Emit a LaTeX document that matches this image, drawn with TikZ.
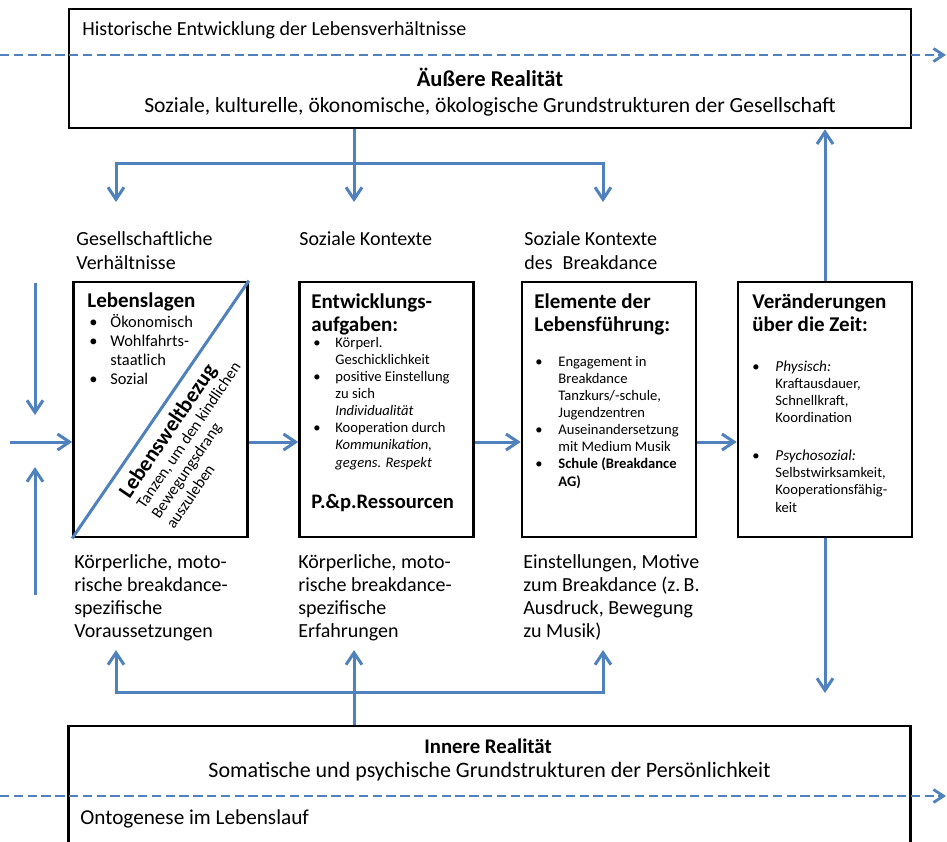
\documentclass[tikz,border=0pt]{standalone}
\usepackage{fontspec}
\setmainfont{Carlito}
\usetikzlibrary{arrows.meta}

\definecolor{flowblue}{HTML}{4F81BD}

\newcommand{\bul}[1]{\makebox[#1][l]{\textbullet}}
\newcommand{\bulgap}[1]{\hspace*{#1}}
\newcommand{\boxtitlefont}{\fontsize{10.5}{11.5}\selectfont\bfseries}
\newcommand{\listfont}{\fontsize{7.3}{8.57}\selectfont}

\tikzset{
  realbox/.style={draw, line width=1.35pt, minimum width=421pt, inner sep=0pt},
  colbox/.style={draw, line width=1.35pt, fill=white, minimum width=87pt, minimum height=127.5pt, inner sep=0pt},
  txt/.style={anchor=base west, inner sep=0pt, align=left},  % base = baseline of the last line
  ctxt/.style={anchor=base, inner sep=0pt, align=center},
  link/.style={flowblue, line width=1.5pt},
  flow/.style={link, -{Straight Barb[length=6pt,width=8pt]}},
  timeline/.style={flowblue, line width=1.4pt, dash pattern=on 4.7pt off 2.2pt, -{Straight Barb[length=5pt,width=6.5pt]}}
}

\begin{document}
\begin{tikzpicture}[x=0.5pt, y=-0.5pt]
        \path[use as bounding box, fill=white] (0,0) rectangle (947,841);

        % Nodes
        \node (aussen) [realbox, minimum height=59.5pt] at (490,68.5) {};
        \node (innen) [realbox, minimum height=70pt] at (489.5,796) {};
        \node (lagen) [colbox] at (160.5,409.5) {};
        \node (aufgaben) [colbox] at (386.5,409.5) {};
        \node (fuehrung) [colbox] at (609,409.5) {};
        \node (zeit) [colbox] at (825,409.5) {};

        \node (histo) [txt, font=\fontsize{10}{11}\selectfont] at (82,35) {Historische Entwicklung der Lebensverhältnisse};
        \node (aussentitel) [ctxt, font=\fontsize{11.3}{13}\selectfont\bfseries] at (490,86) {Äußere Realität};
        \node (aussentext) [ctxt, font=\fontsize{10.8}{12}\selectfont] at (490,112) {Soziale, kulturelle, ökonomische, ökologische Grundstrukturen der Gesellschaft};
        \node (innentitel) [ctxt, font=\fontsize{10.4}{12}\selectfont\bfseries] at (488,753) {Innere Realität};
        \node (innentext) [ctxt, font=\fontsize{11}{12}\selectfont] at (489.5,777) {Somatische und psychische Grundstrukturen der Persönlichkeit};
        \node (onto) [txt, font=\fontsize{10.6}{11}\selectfont] at (80,824) {Ontogenese im Lebenslauf};

        % labels above and below the columns
        \node (gesell) [txt, font=\fontsize{10}{12}\selectfont] at (76,269) {Gesellschaftliche\\Verhältnisse};
        \node (kontext) [txt, font=\fontsize{10}{12}\selectfont] at (299,245) {Soziale Kontexte};
        \node (breakkontext) [txt, font=\fontsize{10}{12}\selectfont] at (524,269) {Soziale Kontexte\\des\enspace Breakdance};
        \node (voraus) [txt, font=\fontsize{10}{11.5}\selectfont] at (74,637) {Körperliche, moto-\\rische breakdance-\\spezifische\\Voraussetzungen};
        \node (erfahr) [txt, font=\fontsize{10}{11.5}\selectfont] at (298,637) {Körperliche, moto-\\rische breakdance-\\spezifische\\Erfahrungen};
        \node (motive) [txt, font=\fontsize{10}{11.5}\selectfont] at (523,637) {Einstellungen, Motive\\zum Breakdance (z.\,B.\\Ausdruck, Bewegung\\zu Musik)};

        % box contents
        \node (lagentitel) [txt, font=\boxtitlefont] at (87,307) {Lebenslagen};
        \node (lagenliste) [txt, font=\fontsize{8.2}{9.5}\selectfont] at (89,384) {\bul{10.5pt}Ökonomisch\\\bul{10.5pt}Wohlfahrts-\\\bulgap{10.5pt}staatlich\\\bul{10.5pt}Sozial};
        \node (bezug) [rotate=55.8, align=left, inner sep=0pt, font=\fontsize{8}{9}\selectfont] at (194,439) {{\fontsize{10.9}{12}\selectfont\bfseries Lebensweltbezug}\\Tanzen, um den kindlichen\\Bewegungsdrang\\auszuleben};

        \node (aufgabentitel) [txt, font=\boxtitlefont] at (311,331) {Entwicklungs-\\aufgaben:};
        \node (aufgabenliste) [txt, font=\listfont] at (313,467) {\bul{11pt}Körperl.\\\bulgap{11pt}Geschicklichkeit\\\bul{11pt}positive Einstellung\\\bulgap{11pt}zu sich\\\bulgap{11pt}\textit{Individualität}\\\bul{11pt}Kooperation durch\\\bulgap{11pt}\textit{Kommunikation,}\\\bulgap{11pt}\textit{gegens. Respekt}};
        \node (ressourcen) [txt, font=\fontsize{10.3}{11}\selectfont\bfseries] at (311,508) {P.\&p.Ressourcen};

        \node (fuehrungtitel) [txt, font=\boxtitlefont] at (534,331) {Elemente der\\Lebensführung:};
        \node (fuehrungliste) [txt, font=\listfont] at (535,486) {\bul{11.5pt}Engagement in\\\bulgap{11.5pt}Breakdance\\\bulgap{11.5pt}Tanzkurs/-schule,\\\bulgap{11.5pt}Jugendzentren\\\bul{11.5pt}Auseinandersetzung\\\bulgap{11.5pt}mit Medium Musik\\\bul{11.5pt}\textbf{Schule (Breakdance}\\\bulgap{11.5pt}\textbf{AG)}};

        \node (zeittitel) [txt, font=\boxtitlefont] at (752,331) {Veränderungen\\über die Zeit:};
        \node (zeitliste) [txt, font=\listfont] at (752,512) {\bul{11.5pt}{\fontsize{7.6}{8.57}\selectfont\textit{Physisch:}}\\\bulgap{11.5pt}Kraftausdauer,\\\bulgap{11.5pt}Schnellkraft,\\\bulgap{11.5pt}Koordination\\[10.5pt]\bul{11.5pt}{\fontsize{7.6}{8.57}\selectfont\textit{Psychosozial:}}\\\bulgap{11.5pt}Selbstwirksamkeit,\\\bulgap{11.5pt}Kooperationsfähig-\\\bulgap{11.5pt}keit};

        % Coordinates for the connectors
        \coordinate (histL) at (0,55);
        \coordinate (histR) at (946,55);
        \coordinate (ontoL) at (0,796);
        \coordinate (ontoR) at (946,796);
        \coordinate (topsplit) at (354,163);
        \coordinate (topleft) at (116,163);
        \coordinate (topright) at (603,163);
        \coordinate (gesTip) at (116,202);
        \coordinate (kontextTip) at (354,202);
        \coordinate (breakTip) at (603,202);
        \coordinate (botsplit) at (354,692);
        \coordinate (botleft) at (116,692);
        \coordinate (botright) at (603,692);
        \coordinate (vorTip) at (116,650);
        \coordinate (erfTip) at (354,650);
        \coordinate (motTip) at (603,650);
        \coordinate (zeitTip) at (825,693);
        \coordinate (arrowrow) at (0,442);
        \coordinate (leftin) at (10,442);
        \coordinate (leftTop) at (35,283);
        \coordinate (leftTopTip) at (35,415);
        \coordinate (leftBot) at (35,595);
        \coordinate (leftBotTip) at (35,467);

        % Edges
        \draw[link] (lagen.south west) -- (lagen.north east);  % diagonal of Lebenslagen
        \draw[timeline] (histL) -- (histR);
        \draw[timeline] (ontoL) -- (ontoR);
        \draw[flow] (aussen.south -| topsplit) -- (kontextTip);
        \draw[flow] (topsplit) -- (topleft) -- (gesTip);
        \draw[flow] (topsplit) -- (topright) -- (breakTip);
        \draw[flow] (innen.north -| botsplit) -- (erfTip);
        \draw[flow] (botsplit) -- (botleft) -- (vorTip);
        \draw[flow] (botsplit) -- (botright) -- (motTip);
        \draw[flow] (zeit.north) -- (aussen.south -| zeit.north);
        \draw[flow] (zeit.south) -- (zeitTip);
        \draw[flow] (leftin) -- (lagen.west |- arrowrow);
        \draw[flow] (lagen.east |- arrowrow) -- (aufgaben.west |- arrowrow);
        \draw[flow] (aufgaben.east |- arrowrow) -- (fuehrung.west |- arrowrow);
        \draw[flow] (fuehrung.east |- arrowrow) -- (zeit.west |- arrowrow);
        \draw[flow] (leftTop) -- (leftTopTip);
        \draw[flow] (leftBot) -- (leftBotTip);
    \end{tikzpicture}
\end{document}
